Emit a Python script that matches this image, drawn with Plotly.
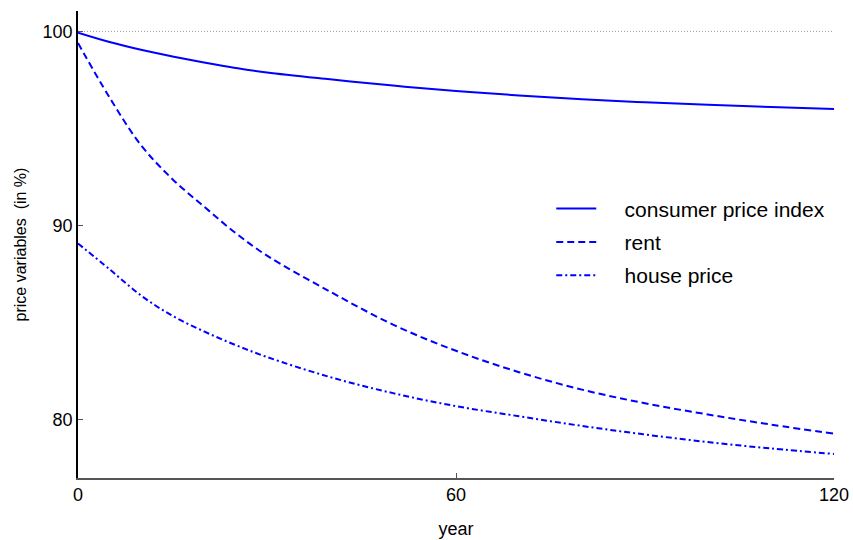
import plotly.graph_objects as go

# Years after the shock
years = [0, 5, 10, 15, 20, 25, 30, 40, 50, 60, 70, 80, 90, 100, 110, 120]

# Price paths, in % of the initial level
cpi = [99.93, 99.45, 99.05, 98.71, 98.4, 98.12, 97.88, 97.53, 97.21, 96.93,
       96.7, 96.5, 96.35, 96.22, 96.1, 96.0]
rent = [99.4, 96.6, 94.14, 92.39, 90.98, 89.62, 88.45, 86.6, 84.9, 83.55,
        82.45, 81.55, 80.85, 80.27, 79.75, 79.28]
house_price = [89.08, 87.75, 86.4, 85.35, 84.55, 83.85, 83.23, 82.2, 81.37, 80.7,
               80.18, 79.68, 79.24, 78.85, 78.52, 78.24]

series_names = ["consumer price index", "rent", "house price"]
baseline = 100

x_ticks = [0, 60, 120]
y_ticks = [80, 90, 100]

FONT = "Liberation Sans, Arial, sans-serif"
BLUE = "#0000ff"
PAD = "\u00a0\u00a0\u00a0\u00a0"  # extra room between legend sample and label

fig = go.Figure()

# Reference level at 100
fig.add_trace(go.Scatter(
    x=[years[0], years[-1]], y=[baseline, baseline], mode="lines",
    line=dict(color="#999999", width=1, dash="1px,2px"),
    showlegend=False, hoverinfo="skip",
))

styles = ["solid", "7px,4px", "6px,3px,2px,3px"]
for name, values, dash in zip(series_names, [cpi, rent, house_price], styles):
    fig.add_trace(go.Scatter(
        x=years, y=values, mode="lines", name=PAD + name,
        line=dict(color=BLUE, width=2, dash=dash, shape="spline", smoothing=1.0),
        legendgroup=name,
    ))

fig.update_layout(
    width=853, height=540,
    margin=dict(l=78, r=19, t=11, b=62, autoexpand=False),
    paper_bgcolor="white", plot_bgcolor="white",
    font=dict(family=FONT, size=17, color="black"),
    legend=dict(
        x=0.626, y=0.62, xanchor="left", yanchor="top",
        bgcolor="rgba(0,0,0,0)", font=dict(size=21),
        tracegroupgap=3, itemwidth=40,
    ),
)

fig.update_xaxes(
    range=[0, 120], tickvals=x_ticks, ticks="inside", ticklen=5,
    tickcolor="#555555", showline=True, linecolor="#555555", linewidth=1.5,
    showgrid=False, zeroline=False, tickfont=dict(size=18), automargin=False,
    title=dict(text="year", font=dict(size=18), standoff=18),
)
fig.update_yaxes(
    range=[77.0, 101.05], tickvals=y_ticks, ticks="inside", ticklen=5,
    tickcolor="#555555", showline=True, linecolor="black", linewidth=1.5,
    showgrid=False, zeroline=False, tickfont=dict(size=18), automargin=False,
    title=dict(text="price variables  (in %)", font=dict(size=16), standoff=12),
)

fig.write_html("out.html")
